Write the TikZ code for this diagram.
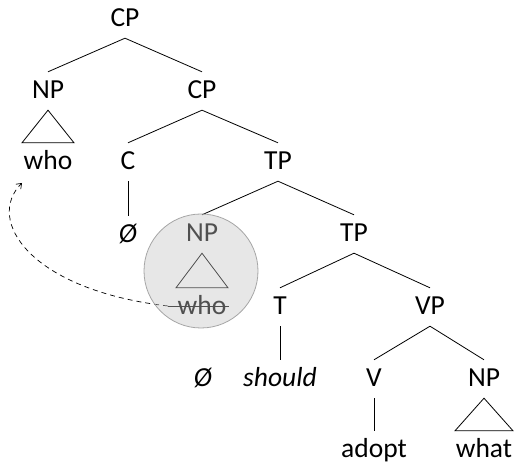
\documentclass[tikz,border=0pt]{standalone}
\usepackage{fontspec}
\setmainfont{Carlito}
\usetikzlibrary{arrows.meta,positioning,calc}

\begin{document}
\begin{tikzpicture}[x=1pt,y=-1pt,
    cat/.style={anchor=base,inner xsep=1pt,inner ysep=9pt,text height=18pt,text depth=2pt,
      font=\fontsize{27.5}{30}\selectfont},
    branch/.style={line width=0.8pt},
    trace/.style={-{Straight Barb[length=1.6mm,width=2.4mm]},dashed,line width=0.7pt,
      dash pattern=on 5pt off 4pt},
    spot/.style={draw=black!35,fill=black!23,fill opacity=0.41,line width=0.8pt}
  ]
    \useasboundingbox (0,0) rectangle (515,465);
    % rows every 72pt
    \node[cat] (cp) at (125,27) {CP};
    \node[cat] (npw) at (48,99) {NP};
    \node[cat] (cpb) at (202,99) {CP};
    \node[cat] (who) at (48,170) {who};
    \node[cat] (c) at (128,170) {C};
    \node[cat] (tp) at (278,170) {TP};
    \node[cat] (cnull) at (128,243) {\itshape Ø};
    \node[cat] (npt) at (202,242) {NP};
    \node[cat] (tpb) at (354,242) {TP};
    \node[cat] (whot) at (202,315) {who};
    \node[cat] (t) at (280,315) {T};
    \node[cat] (vp) at (430,315) {VP};
    \node[cat] (tnull) at (203,387) {\itshape Ø};
    \node[cat] (should) at (280,387) {\itshape should};
    \node[cat] (v) at (374,387) {V};
    \node[cat] (npo) at (484,387) {NP};
    \node[cat] (adopt) at (374,458) {adopt};
    \node[cat] (what) at (484,458) {what};
    \coordinate (gap) at (168,306);
    \coordinate (land) at (22,183);
    % branches
    \draw[branch] (cp.south) -- (npw.north);
    \draw[branch] (cp.south) -- (cpb.north);
    \draw[branch] (npw.south) -- ([xshift=-26pt]who.north) -- ([xshift=26pt]who.north) -- cycle;
    \draw[branch] (cpb.south) -- (c.north);
    \draw[branch] (cpb.south) -- (tp.north);
    \draw[branch] (c.south) -- (cnull.north);
    \draw[branch] (tp.south) -- (npt.north);
    \draw[branch] (tp.south) -- (tpb.north);
    \draw[branch] (npt.south) -- ([xshift=-26pt]whot.north) -- ([xshift=26pt]whot.north) -- cycle;
    \draw[branch] (tpb.south) -- (t.north);
    \draw[branch] (tpb.south) -- (vp.north);
    \draw[branch] (t.south) -- (should.north);
    \draw[branch] (vp.south) -- (v.north);
    \draw[branch] (vp.south) -- (npo.north);
    \draw[branch] (v.south) -- (adopt.north);
    \draw[branch] (npo.south) -- ([xshift=-29pt]what.north) -- ([xshift=29pt]what.north) -- cycle;
    % struck copy and movement
    \draw[branch] (gap) -- ($(whot.base east)+(1pt,9pt)$);
    \draw[trace] (gap) .. controls (30,290) and (-15,220) .. (land);
    \draw[spot] (201,271) circle[radius=57];
\end{tikzpicture}
\end{document}
